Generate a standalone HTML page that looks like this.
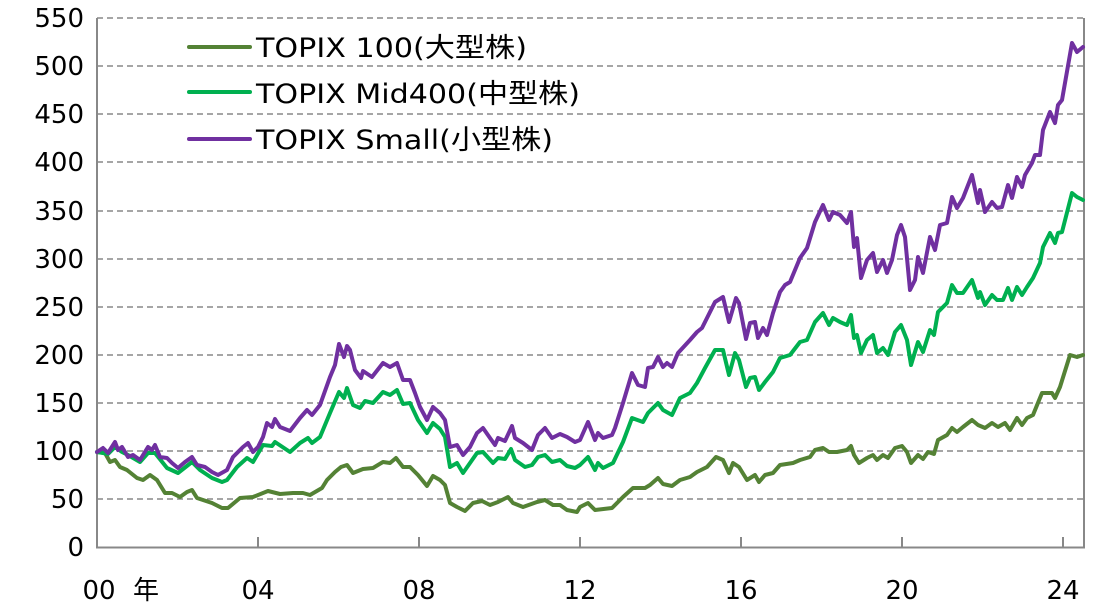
<!DOCTYPE html>
<html><head><meta charset="utf-8"><style>
body{margin:0;background:#fff;}
svg text{font-family:"DejaVu Sans","Liberation Sans","Noto Sans CJK JP",sans-serif;fill:#000;}
</style></head><body>
<svg width="1094" height="605" viewBox="0 0 1094 605" xmlns="http://www.w3.org/2000/svg">
<g stroke="#888" stroke-width="1.6" stroke-dasharray="6,4">
<line x1="97" y1="18" x2="1084" y2="18"/>
<line x1="97" y1="66" x2="1084" y2="66"/>
<line x1="97" y1="114" x2="1084" y2="114"/>
<line x1="97" y1="162" x2="1084" y2="162"/>
<line x1="97" y1="211" x2="1084" y2="211"/>
<line x1="97" y1="259" x2="1084" y2="259"/>
<line x1="97" y1="307" x2="1084" y2="307"/>
<line x1="97" y1="355" x2="1084" y2="355"/>
<line x1="97" y1="403" x2="1084" y2="403"/>
<line x1="97" y1="451" x2="1084" y2="451"/>
<line x1="97" y1="499" x2="1084" y2="499"/>
</g>
<g stroke="#888" stroke-width="2" fill="none">
<line x1="97" y1="18" x2="97" y2="548"/>
<line x1="1084" y1="18" x2="1084" y2="548"/>
<line x1="96" y1="547.5" x2="1085" y2="547.5"/>
<line x1="258" y1="537" x2="258" y2="547"/>
<line x1="419" y1="537" x2="419" y2="547"/>
<line x1="580" y1="537" x2="580" y2="547"/>
<line x1="741" y1="537" x2="741" y2="547"/>
<line x1="902" y1="537" x2="902" y2="547"/>
<line x1="1063" y1="537" x2="1063" y2="547"/>
</g>
<g font-size="26" text-anchor="end">
<text x="84" y="27">550</text><text x="84" y="75">500</text><text x="84" y="123">450</text>
<text x="84" y="171">400</text><text x="84" y="220">350</text><text x="84" y="268">300</text>
<text x="84" y="316">250</text><text x="84" y="364">200</text><text x="84" y="412">150</text>
<text x="84" y="460">100</text><text x="84" y="508">50</text><text x="84" y="556">0</text>
</g>
<g font-size="26" text-anchor="middle">
<text x="99" y="599">00</text><text x="146" y="599">年</text>
<text x="258" y="599">04</text><text x="419" y="599">08</text><text x="580" y="599">12</text>
<text x="741" y="599">16</text><text x="902" y="599">20</text><text x="1063" y="599">24</text>
</g>
<g fill="none" stroke-width="4" stroke-linejoin="round" stroke-linecap="round">
<polyline stroke="#548235" points="97,452 105,453 110,462 115,460 120,467 127,470 137,478 143,480 150,475 157,480 165,493 172,493 180,497 187,492 192,490 197,498 212,503 222,508 228,508 240,498 253,497 268,491 280,494 293,493 303,493 310,495 322,488 327,480 335,472 341,467 347,465 353,473 363,469 373,468 383,462 390,463 396,458 403,467 410,467 418,475 427,486 433,476 440,480 445,485 450,503 457,507 465,511 473,503 482,501 490,505 498,502 508,497 513,503 523,507 537,502 545,500 553,505 560,505 567,510 577,512 580,507 588,503 595,510 612,508 623,497 633,488 645,488 650,485 658,478 663,484 672,486 680,480 690,477 697,472 707,467 716,457 723,460 729,473 733,463 739,467 747,480 755,475 759,482 765,475 773,473 780,465 793,463 800,460 810,457 815,450 823,448 829,452 837,452 847,450 851,446 854,455 859,463 867,458 873,455 877,460 883,455 888,458 895,448 902,446 907,452 911,463 918,455 923,459 928,452 934,454 938,440 947,435 952,428 957,432 963,427 972,420 978,425 985,428 992,423 998,427 1005,423 1010,430 1017,418 1022,425 1027,418 1033,415 1042,393 1052,393 1055,398 1060,387 1070,355 1077,357 1083,355"/>
<polyline stroke="#00B050" points="97,452 103,453 108,454 115,447 122,452 128,455 140,462 148,453 155,453 167,468 178,473 192,462 200,470 212,478 222,482 227,480 237,467 247,458 253,462 263,445 272,446 275,442 290,452 300,443 308,438 312,443 320,437 330,413 339,392 344,398 347,388 353,405 360,408 365,401 373,403 383,392 390,395 397,390 403,404 410,403 418,420 427,433 433,423 440,429 445,437 450,467 457,463 463,473 477,453 483,452 493,463 498,458 505,459 511,449 515,460 525,467 532,465 538,457 545,455 552,462 560,460 567,466 575,468 580,465 588,457 595,470 598,463 603,468 613,463 623,442 632,418 643,422 648,413 658,403 663,410 672,415 680,398 690,393 697,383 705,368 715,350 723,350 729,375 735,353 739,360 746,387 750,378 755,377 759,390 765,382 773,372 780,358 790,355 800,342 807,340 815,322 823,313 829,325 833,318 840,322 847,325 851,315 854,338 857,335 861,353 867,340 873,335 877,353 883,348 888,355 895,332 901,325 907,340 911,365 918,342 923,352 930,330 934,335 938,312 947,303 952,285 957,293 963,293 972,280 978,298 980,292 985,305 992,295 997,300 1003,300 1008,288 1012,300 1017,287 1022,295 1027,287 1033,278 1040,263 1043,247 1050,233 1055,243 1058,233 1062,232 1072,193 1077,197 1083,200"/>
<polyline stroke="#7030A0" points="97,452 103,448 108,453 115,442 118,450 122,447 128,457 133,455 140,460 148,447 152,450 155,445 160,457 167,458 172,463 178,468 185,462 192,457 197,465 205,467 212,472 218,475 227,470 233,457 243,447 248,443 253,452 258,447 263,437 267,423 272,427 275,419 280,427 290,431 300,418 307,410 312,415 320,405 330,377 335,365 339,344 344,357 347,346 350,350 355,370 361,378 363,371 372,377 383,363 390,367 397,363 403,380 410,380 415,393 420,407 427,420 433,407 440,413 445,420 450,447 457,445 463,455 470,447 477,433 483,428 490,438 495,445 498,438 505,441 512,426 515,438 523,443 532,450 538,435 545,428 552,438 560,434 567,437 575,442 580,440 588,422 595,440 598,433 603,438 612,435 615,428 623,403 632,373 638,385 645,387 648,368 653,367 658,357 663,367 667,363 672,367 678,353 690,340 697,332 702,328 707,318 715,302 723,297 729,322 736,298 739,303 746,339 750,323 755,322 758,338 763,328 767,335 773,313 780,292 785,285 790,282 800,258 807,248 815,222 823,205 829,220 833,212 840,215 847,223 851,212 854,247 857,238 861,278 867,260 873,253 877,272 883,260 887,273 892,260 897,235 901,225 905,237 910,290 915,280 918,257 923,273 930,237 935,250 940,225 947,223 952,197 957,208 963,198 972,175 978,203 980,190 985,212 992,202 997,208 1002,207 1008,185 1012,198 1017,177 1022,187 1025,175 1032,163 1035,155 1040,155 1043,130 1050,112 1055,123 1058,105 1062,100 1072,43 1077,52 1083,47"/>
</g>
<g stroke-width="4" stroke-linecap="round">
<line x1="189" y1="47" x2="250" y2="47" stroke="#548235"/>
<line x1="189" y1="92" x2="250" y2="92" stroke="#00B050"/>
<line x1="189" y1="139" x2="250" y2="139" stroke="#7030A0"/>
</g>
<g font-size="27">
<text x="256" y="57" textLength="271" lengthAdjust="spacingAndGlyphs">TOPIX 100(大型株)</text>
<text x="256" y="103" textLength="324" lengthAdjust="spacingAndGlyphs">TOPIX Mid400(中型株)</text>
<text x="256" y="149" textLength="297" lengthAdjust="spacingAndGlyphs">TOPIX Small(小型株)</text>
</g>
</svg>
</body></html>
